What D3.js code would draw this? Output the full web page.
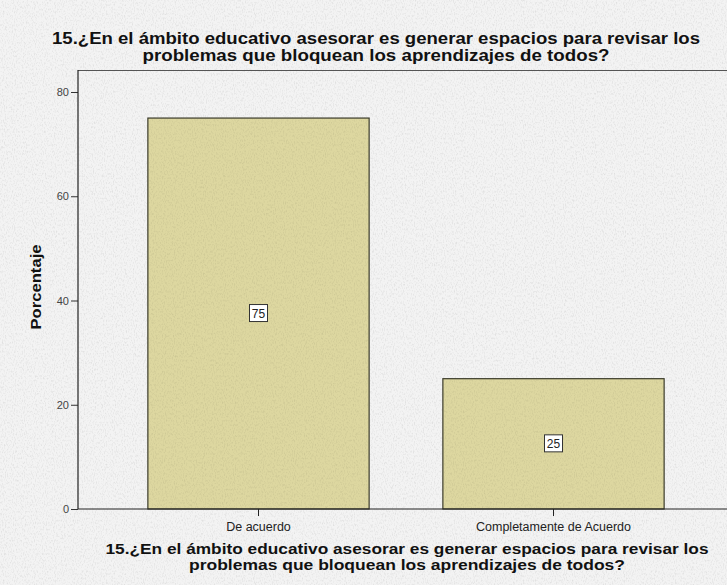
<!DOCTYPE html>
<html>
<head>
<meta charset="utf-8">
<script src="https://cdn.jsdelivr.net/npm/d3@7"></script>
<style>
  body { margin: 0; background: #ededed; }
  svg { display: block; }
</style>
</head>
<body>
<div id="chart"></div>
<script>
// data
const categories = ["De acuerdo", "Completamente de Acuerdo"];
const percentages = [75, 25];
const yTicks = [0, 20, 40, 60, 80];
const titleLines = [
    "15.¿En el ámbito educativo asesorar es generar espacios para revisar los",
    "problemas que bloquean los aprendizajes de todos?"
];

const svgWidth = 727, svgHeight = 585;
const plotLeft = 78, plotTop = 70, plotBottom = 509;

const svg = d3.select("#chart")
    .append("svg")
    .attr("width", svgWidth)
    .attr("height", svgHeight);

// paper texture
const defs = svg.append("defs");
const tex = defs.append("filter").attr("id", "paper")
    .attr("x", 0).attr("y", 0).attr("width", "100%").attr("height", "100%");
tex.append("feTurbulence")
    .attr("type", "fractalNoise")
    .attr("baseFrequency", "0.9 0.45")
    .attr("numOctaves", 2)
    .attr("seed", 3)
    .attr("result", "noise");
tex.append("feColorMatrix")
    .attr("in", "noise")
    .attr("type", "matrix")
    .attr("values", "0 0 0 0 0  0 0 0 0 0  0 0 0 0 0  0 0 0 -1.1 0.6")
    .attr("result", "dark");
tex.append("feComposite").attr("in", "dark").attr("in2", "SourceGraphic").attr("operator", "in");

svg.append("rect")
    .attr("width", svgWidth).attr("height", svgHeight)
    .attr("fill", "#f3f3f3");
svg.append("rect")
    .attr("width", svgWidth).attr("height", svgHeight)
    .attr("fill", "#000")
    .attr("filter", "url(#paper)")
    .attr("opacity", 0.16);

// Scales
const xScale = d3.scaleBand()
    .domain(categories)
    .range([111, 701])
    .paddingInner(0.25)
    .paddingOuter(0.125);

const yScale = d3.scaleLinear()
    .domain([0, 80])
    .range([plotBottom, 92]);

// frame: top line
svg.append("line")
    .attr("x1", plotLeft).attr("x2", svgWidth)
    .attr("y1", plotTop + 0.5).attr("y2", plotTop + 0.5)
    .attr("stroke", "#555").attr("stroke-width", 1.2);

// bars
const bars = svg.selectAll(".bar")
    .data(percentages)
    .enter()
    .append("g")
    .attr("class", "bar");

bars.append("rect")
    .attr("x", (d, i) => xScale(categories[i]))
    .attr("y", d => yScale(d))
    .attr("width", xScale.bandwidth())
    .attr("height", d => yScale(0) - yScale(d))
    .attr("fill", "#ddd7a0")
    .attr("stroke", "#3a3a2a")
    .attr("stroke-width", 1.2);

// bar texture overlay
bars.append("rect")
    .attr("x", (d, i) => xScale(categories[i]) + 1)
    .attr("y", d => yScale(d) + 1)
    .attr("width", xScale.bandwidth() - 2)
    .attr("height", d => yScale(0) - yScale(d) - 2)
    .attr("fill", "#000")
    .attr("filter", "url(#paper)")
    .attr("opacity", 0.15);

// value labels
const labels = bars.append("g")
    .attr("transform", (d, i) => `translate(${xScale(categories[i]) + xScale.bandwidth() / 2},${(yScale(d) + yScale(0)) / 2})`);

labels.append("rect")
    .attr("x", -9).attr("y", -9)
    .attr("width", 18).attr("height", 17)
    .attr("fill", "#fff")
    .attr("stroke", "#333")
    .attr("stroke-width", 1);

labels.append("text")
    .attr("text-anchor", "middle")
    .attr("dy", "0.35em")
    .attr("font-family", "Liberation Sans, Arial, sans-serif")
    .attr("font-size", 12)
    .attr("fill", "#222")
    .text(d => d);

// Y axis
const yAxis = d3.axisLeft(yScale)
    .tickValues(yTicks)
    .tickSize(7)
    .tickPadding(2);

const gy = svg.append("g")
    .attr("transform", `translate(${plotLeft},0)`)
    .call(yAxis);
gy.select(".domain").remove();
gy.append("line")
    .attr("x1", 0).attr("x2", 0)
    .attr("y1", plotTop).attr("y2", plotBottom)
    .attr("stroke", "#222").attr("stroke-width", 1.2);
gy.selectAll(".tick line").attr("stroke", "#333");
gy.selectAll(".tick text")
    .attr("font-family", "Liberation Sans, Arial, sans-serif")
    .attr("font-size", 11)
    .attr("fill", "#444");

// X axis
const xAxis = d3.axisBottom(xScale)
    .tickSize(7)
    .tickPadding(6);

const gx = svg.append("g")
    .attr("transform", `translate(0,${plotBottom})`)
    .call(xAxis);
gx.select(".domain").remove();
gx.append("line")
    .attr("x1", plotLeft).attr("x2", svgWidth)
    .attr("y1", 0).attr("y2", 0)
    .attr("stroke", "#222").attr("stroke-width", 1.2);
gx.selectAll(".tick line").attr("stroke", "#222");
gx.selectAll(".tick text")
    .attr("font-family", "Liberation Sans, Arial, sans-serif")
    .attr("font-size", 12.5)
    .attr("fill", "#222");

// Y label
svg.append("text")
    .attr("transform", "translate(41,287) rotate(-90)")
    .attr("text-anchor", "middle")
    .attr("font-family", "Liberation Sans, Arial, sans-serif")
    .attr("font-weight", "bold")
    .attr("font-size", 15)
    .attr("textLength", 85)
    .attr("lengthAdjust", "spacingAndGlyphs")
    .attr("fill", "#111")
    .text("Porcentaje");

// titles
function drawTitle(cx, y0, size, gap, widths) {
    svg.append("g").selectAll("text")
        .data(titleLines)
        .enter()
        .append("text")
        .attr("x", cx)
        .attr("y", (d, i) => y0 + i * gap)
        .attr("text-anchor", "middle")
        .attr("font-family", "Liberation Sans, Arial, sans-serif")
        .attr("font-weight", "bold")
        .attr("font-size", size)
        .attr("textLength", (d, i) => widths[i])
        .attr("lengthAdjust", "spacingAndGlyphs")
        .attr("fill", "#111")
        .text(d => d);
}
drawTitle(376, 44, 16.5, 16.5, [648, 467]);
drawTitle(407, 554, 15, 15.5, [603, 436]);
</script>
</body>
</html>
